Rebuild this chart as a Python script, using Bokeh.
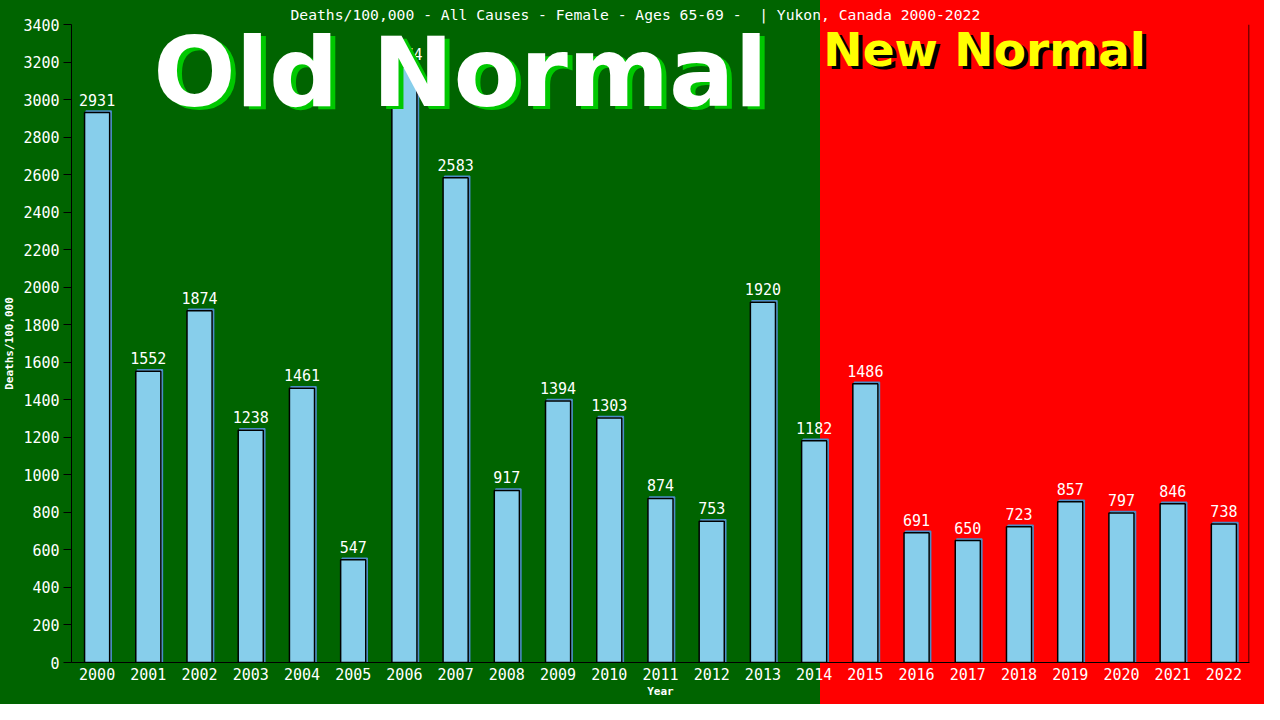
from bokeh.plotting import figure
from bokeh.models import ColumnDataSource, FixedTicker, Span, Label
from bokeh.core.properties import value
from bokeh.embed import file_html
from bokeh.resources import INLINE

# data
years = ["2000", "2001", "2002", "2003", "2004", "2005", "2006", "2007", "2008", "2009", "2010", "2011",
         "2012", "2013", "2014", "2015", "2016", "2017", "2018", "2019", "2020", "2021", "2022"]
deaths = [2931, 1552, 1874, 1238, 1461, 547, 3174, 2583, 917, 1394, 1303, 874,
          753, 1920, 1182, 1486, 691, 650, 723, 857, 797, 846, 738]
y_ticks = [0, 200, 400, 600, 800, 1000, 1200, 1400, 1600, 1800, 2000, 2200, 2400, 2600, 2800, 3000, 3200, 3400]
title_text = "Deaths/100,000 - All Causes - Female - Ages 65-69 -\u00a0\u00a0| Yukon, Canada 2000-2022"

MONO = "DejaVu Sans Mono"
GREEN = "#006400"
RED = "#ff0000"

xs = list(range(len(years)))
src = ColumnDataSource(dict(x=xs, deaths=deaths, label=[str(d) for d in deaths],
                            xs=[x + 0.03 for x in xs], ts=[d + 8 for d in deaths]))

p = figure(width=1264, height=704, x_range=(-0.5, len(years) - 0.5), y_range=(0, 3400),
           output_backend="svg", toolbar_location=None, tools="",
           min_border_left=68, min_border_right=15, min_border_top=24, min_border_bottom=42)

# background: green left part, red right part (over the whole canvas)
p.background_fill_color = None
p.border_fill_color = None
p.outline_line_color = None
p.styles = {"background": "linear-gradient(to right, %s 0px, %s 820px, %s 820px, %s 100%%)" % (GREEN, GREEN, RED, RED)}

p.title.text = title_text
p.title.text_color = "white"
p.title.text_font = MONO
p.title.text_font_size = "14.7px"
p.title.text_font_style = "normal"
p.title.align = "left"
p.title.offset = 219
p.title.standoff = 4

p.xgrid.grid_line_color = None
p.ygrid.grid_line_color = None

# axes
p.yaxis.ticker = FixedTicker(ticks=y_ticks)
p.yaxis.axis_label = "Deaths/100,000"
p.yaxis.axis_label_text_font = MONO
p.yaxis.axis_label_text_font_size = "11px"
p.yaxis.axis_label_text_font_style = "bold"
p.yaxis.axis_label_text_color = "white"
p.yaxis.axis_label_standoff = 4
p.yaxis.major_label_text_font = MONO
p.yaxis.major_label_text_font_size = "15px"
p.yaxis.major_label_text_color = "white"
p.yaxis.major_label_standoff = 4
p.yaxis.major_tick_out = 8
p.yaxis.major_tick_in = 0
p.yaxis.minor_tick_line_color = None
p.yaxis.axis_line_color = "black"
p.yaxis.major_tick_line_color = "black"

p.xaxis.ticker = FixedTicker(ticks=xs)
p.xaxis.major_label_overrides = {i: y for i, y in enumerate(years)}
p.xaxis.axis_label = "Year"
p.xaxis.axis_label_text_font = MONO
p.xaxis.axis_label_text_font_size = "11px"
p.xaxis.axis_label_text_font_style = "bold"
p.xaxis.axis_label_text_color = "white"
p.xaxis.axis_label_standoff = 2
p.xaxis.major_label_text_font = MONO
p.xaxis.major_label_text_font_size = "15px"
p.xaxis.major_label_text_color = "white"
p.xaxis.major_label_standoff = 5
p.xaxis.major_tick_out = 0
p.xaxis.major_tick_in = 0
p.xaxis.minor_tick_line_color = None
p.xaxis.axis_line_color = "black"

# right edge line of plot area
p.add_layout(Span(location=len(years) - 0.51, dimension="height", line_color="black", line_width=1))

# big overlay texts
p.add_layout(Label(x=7.095, y=3142, text="Old Normal", text_align="center", text_baseline="middle",
                   text_font="DejaVu Sans", text_font_style="bold", text_font_size="97px",
                   text_color="#00c800", x_offset=5, y_offset=-3))
p.add_layout(Label(x=7.095, y=3142, text="Old Normal", text_align="center", text_baseline="middle",
                   text_font="DejaVu Sans", text_font_style="bold", text_font_size="97px",
                   text_color="white"))
p.add_layout(Label(x=14.18, y=3265, text="New Normal", text_align="left", text_baseline="middle",
                   text_font="DejaVu Sans", text_font_style="bold", text_font_size="47px",
                   text_color="black", x_offset=4, y_offset=-3))
p.add_layout(Label(x=14.18, y=3265, text="New Normal", text_align="left", text_baseline="middle",
                   text_font="DejaVu Sans", text_font_style="bold", text_font_size="47px",
                   text_color="#ffff00"))

# bars with a small blue shadow
p.vbar(x="xs", top="ts", width=0.49, bottom=0, source=src, fill_color="#87ceeb",
       line_color="#4a8cc8", line_width=1.5)
p.vbar(x="x", top="deaths", width=0.49, bottom=0, source=src, fill_color="#87ceeb",
       line_color="black", line_width=1.5)

p.text(x="x", y="deaths", text="label", source=src, text_align="center", text_baseline="middle",
       y_offset=-13, text_color="white", text_font=value(MONO), text_font_size="15px")

open("out.html", "w").write(file_html(p, INLINE))
